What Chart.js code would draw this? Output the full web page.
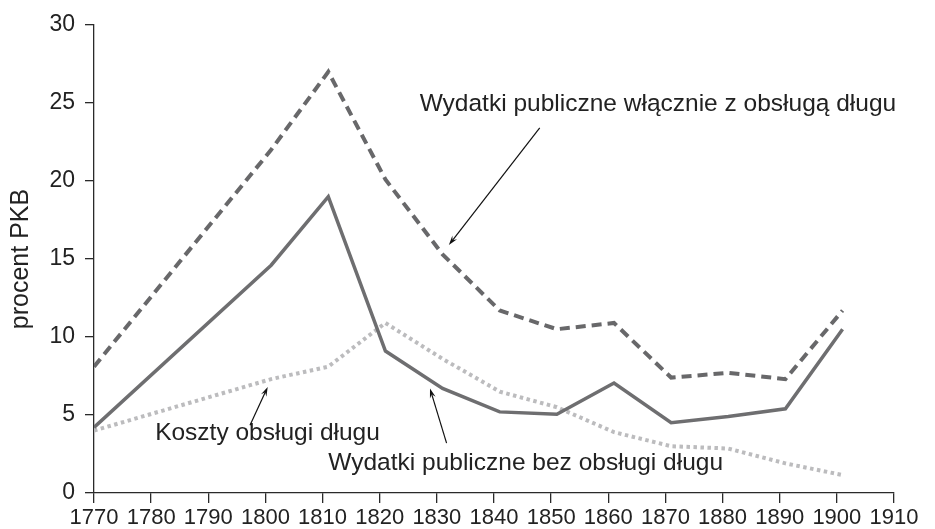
<!DOCTYPE html>
<html>
<head>
<meta charset="utf-8">
<script src="https://cdn.jsdelivr.net/npm/chart.js@4.4.1/dist/chart.umd.min.js"></script>
<style>
  body { margin: 0; background: #fff; }
  #wrap { width: 935px; height: 529px; position: relative; }
</style>
</head>
<body>
<div id="wrap"><canvas id="debtChart"></canvas></div>
<script>
// ==========================
// Data (procent PKB)
// ==========================

const years = [1770, 1801, 1811, 1821, 1831, 1841, 1851, 1861, 1871, 1881, 1891, 1901];

const withDebt    = [8.1, 22.0, 27.0, 20.1, 15.3, 11.7, 10.5, 10.9, 7.4, 7.7, 7.3, 11.7];
const withoutDebt = [4.2, 14.6, 19.0, 9.1, 6.7, 5.2, 5.05, 7.05, 4.5, 4.9, 5.4, 10.5];
const debtCost    = [4.0, 7.3, 8.1, 10.9, 8.6, 6.5, 5.5, 3.9, 3.0, 2.85, 1.9, 1.15];

const xTicks = [1770, 1780, 1790, 1800, 1810, 1820, 1830, 1840, 1850, 1860, 1870, 1880, 1890, 1900, 1910];
const yTicks = [0, 5, 10, 15, 20, 25, 30];

// labels with arrows, in data units
const notes = [
  { text: "Wydatki publiczne włącznie z obsługą długu", at: [1827.0, 24.9], from: [1848.0, 23.4], to: [1832.1, 15.9] },
  { text: "Koszty obsługi długu", at: [1780.7, 3.85], from: [1797.3, 4.35], to: [1800.4, 6.8] },
  { text: "Wydatki publiczne bez obsługi długu", at: [1811.0, 1.92], from: [1831.7, 3.2], to: [1828.8, 6.7] }
];

const toPoints = (vals) => vals.map((v, i) => ({ x: years[i], y: v }));

const FONT = "'Liberation Sans', Arial, sans-serif";
const AXIS = "#2a2a2a";

// ==========================
// Annotation plugin
// ==========================

const notesPlugin = {
  id: "notes",
  afterDatasetsDraw(chart) {
    const { ctx, scales } = chart;
    const xs = scales.x;
    const ys = scales.y;
    ctx.save();
    ctx.fillStyle = "#222";
    ctx.strokeStyle = "#111";
    ctx.font = "24.5px " + FONT;
    ctx.textBaseline = "middle";
    ctx.textAlign = "left";
    notes.forEach((n) => {
      ctx.fillText(n.text, xs.getPixelForValue(n.at[0]), ys.getPixelForValue(n.at[1]));

      const x1 = xs.getPixelForValue(n.from[0]);
      const y1 = ys.getPixelForValue(n.from[1]);
      const x2 = xs.getPixelForValue(n.to[0]);
      const y2 = ys.getPixelForValue(n.to[1]);
      const ang = Math.atan2(y2 - y1, x2 - x1);
      const head = 10;

      ctx.lineWidth = 1.2;
      ctx.beginPath();
      ctx.moveTo(x1, y1);
      ctx.lineTo(x2 - Math.cos(ang) * 4, y2 - Math.sin(ang) * 4);
      ctx.stroke();

      ctx.beginPath();
      ctx.moveTo(x2, y2);
      ctx.lineTo(x2 - head * Math.cos(ang - 0.3), y2 - head * Math.sin(ang - 0.3));
      ctx.lineTo(x2 - head * 0.6 * Math.cos(ang), y2 - head * 0.6 * Math.sin(ang));
      ctx.lineTo(x2 - head * Math.cos(ang + 0.3), y2 - head * Math.sin(ang + 0.3));
      ctx.closePath();
      ctx.fillStyle = "#111";
      ctx.fill();
      ctx.fillStyle = "#222";
    });
    ctx.restore();
  }
};

// ==========================
// Chart
// ==========================

new Chart(document.getElementById("debtChart"), {
  type: "line",

  data: {
    datasets: [
      {
        label: "Wydatki publiczne włącznie z obsługą długu",
        data: toPoints(withDebt),
        borderColor: "#68686a",
        borderWidth: 4,
        borderDash: [10, 6],
        pointRadius: 0,
        tension: 0,
      },
      {
        label: "Wydatki publiczne bez obsługi długu",
        data: toPoints(withoutDebt),
        borderColor: "#6e6e70",
        borderWidth: 3.5,
        pointRadius: 0,
        tension: 0,
      },
      {
        label: "Koszty obsługi długu",
        data: toPoints(debtCost),
        borderColor: "#bcbcbe",
        borderWidth: 4,
        borderDash: [3.5, 3.5],
        pointRadius: 0,
        tension: 0,
      },
    ],
  },

  options: {
    responsive: true,
    maintainAspectRatio: false,
    animation: false,
    layout: { padding: { top: 25, right: 41, left: 0, bottom: 0 } },

    plugins: {
      legend: { display: false },
      tooltip: { enabled: false },
    },

    scales: {
      x: {
        type: "linear",
        min: xTicks[0],
        max: xTicks[xTicks.length - 1],
        afterFit: (s) => { s.height = 36; },
        afterBuildTicks: (s) => { s.ticks = xTicks.map((v) => ({ value: v })); },
        grid: { drawOnChartArea: false, drawTicks: true, tickLength: 10, color: AXIS, lineWidth: 1.3 },
        border: { display: true, color: AXIS, width: 1.3 },
        ticks: {
          autoSkip: false,
          maxRotation: 0,
          padding: 2,
          color: "#222",
          font: { family: FONT, size: 22 },
          callback: (v) => String(v),
        },
      },
      y: {
        min: yTicks[0],
        max: yTicks[yTicks.length - 1],
        afterFit: (s) => { s.width = 94; },
        afterBuildTicks: (s) => { s.ticks = yTicks.map((v) => ({ value: v })); },
        grid: { drawOnChartArea: false, drawTicks: true, tickLength: 9, color: AXIS, lineWidth: 1.3 },
        border: { display: true, color: AXIS, width: 1.3 },
        ticks: {
          padding: 10,
          color: "#222",
          font: { family: FONT, size: 23 },
        },
        title: {
          display: true,
          text: "procent PKB",
          color: "#222",
          font: { family: FONT, size: 25 },
          padding: { top: 6, bottom: 0 },
        },
      },
    },
  },

  plugins: [notesPlugin],
});
</script>
</body>
</html>
